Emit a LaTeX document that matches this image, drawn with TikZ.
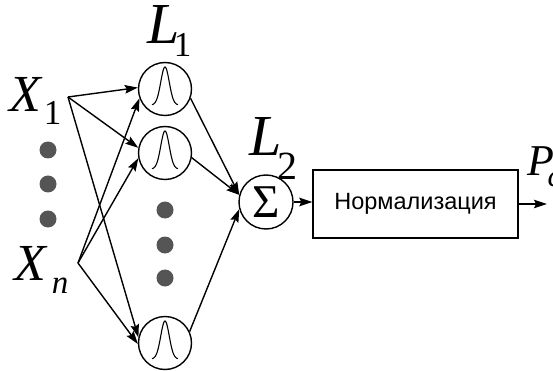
\documentclass[tikz,border=0pt]{standalone}
\usepackage{fontspec}
\setmainfont{Liberation Serif}
\newfontfamily\labelsans{Liberation Sans}
\usetikzlibrary{arrows.meta}
\definecolor{dotgray}{HTML}{555555}

\begin{document}
\begin{tikzpicture}[x=1pt,y=-1pt,
  line width=1.4pt,
  neuron/.style={circle,draw,minimum size=53pt,inner sep=0pt},
  link/.style={-{Stealth[length=13pt,width=8.5pt,inset=2pt]}},
  blob/.style={circle,fill=dotgray,minimum size=17pt,inner sep=0pt},
  lbl/.style={anchor=base west,inner sep=0pt},
]
\useasboundingbox (0,0) rectangle (553,371);

% input labels
\node[lbl] (x1) at (8.5,112) {{\fontsize{52}{52}\selectfont\itshape X}\kern3pt\raisebox{-13pt}{\fontsize{35}{35}\selectfont 1}};
\node[lbl] (xn) at (13.5,280) {{\fontsize{52}{52}\selectfont\itshape X}\kern6pt\raisebox{-13pt}{\fontsize{33}{33}\selectfont\itshape n}};

% layer labels
\node[lbl] (l1) at (147,44) {{\fontsize{58}{58}\selectfont\itshape L}\kern-6pt\raisebox{-13pt}{\fontsize{35}{35}\selectfont 1}};
\node[lbl] (l2) at (249,156) {{\fontsize{58}{58}\selectfont\itshape L}\kern-4pt\raisebox{-24pt}{\fontsize{40}{40}\selectfont 2}};
\node[lbl] (pc) at (527,176) {{\fontsize{44}{44}\selectfont\itshape P}\kern-7pt\raisebox{-11pt}{\fontsize{31}{31}\selectfont\itshape c}};

% ellipsis dots
\node[blob] (d1) at (48,150) {};
\node[blob] (d2) at (48,184) {};
\node[blob] (d3) at (48,219) {};
\node[blob] (d4) at (165,210) {};
\node[blob] (d5) at (165,245) {};
\node[blob] (d6) at (165,278) {};

% radial-basis neurons
\node[neuron] (c1) at (165,89) {};
\node[neuron] (c2) at (165,153) {};
\node[neuron] (c3) at (165,343) {};
\foreach \c in {c1,c2,c3}{
  \begin{scope}[shift={(\c.center)}]
    \draw[line width=1.1pt,smooth,samples=60,domain=-13:13]
      plot ({\x},{16-38*exp(-(\x/6)*(\x/6))});
  \end{scope}
}

% summation neuron and normalisation block
\node[neuron,minimum size=54pt] (sum) at (266,202) {\fontsize{47}{47}\selectfont Σ};
\node[draw,minimum width=205pt,minimum height=68pt,inner sep=0pt] (norm) at (415.5,204)
  {\raisebox{-3.5pt}{\labelsans\fontsize{23.5}{23.5}\selectfont Нормализация}};

% connections
\coordinate (s1) at (68,97);
\coordinate (sn) at (78,263);
\coordinate (out) at (547,204);
\draw[link] (s1) -- (c1.177);
\draw[link] (s1) -- (c2.169);
\draw[link] (s1) -- (c3.168);
\draw[link] (sn) -- (c1.200);
\draw[link] (sn) -- (c2.191);
\draw[link] (sn) -- (c3.182);
\draw[link] (c1.-20) -- (sum.165);
\draw[link] (c2.-10) -- (sum.165);
\draw[link] (c3.25) -- (sum.195);
\draw[link] (sum.east) -- (sum.east -| norm.west);
\draw[link] (norm.east) -- (out);
\end{tikzpicture}
\end{document}
